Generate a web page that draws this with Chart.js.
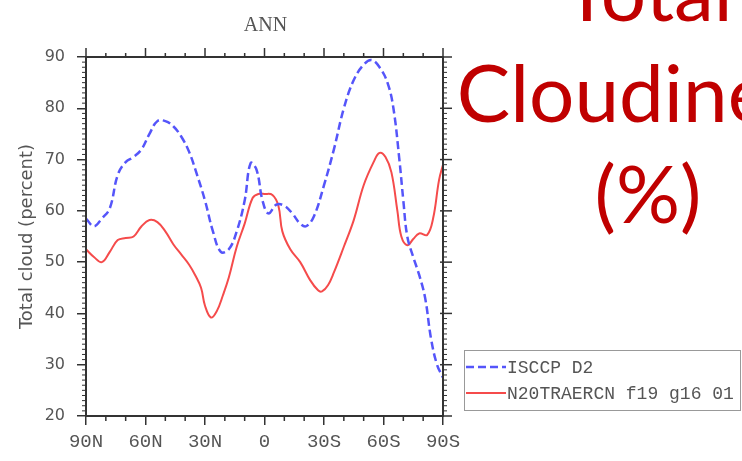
<!DOCTYPE html>
<html>
<head>
<meta charset="utf-8">
<script src="https://cdn.jsdelivr.net/npm/chart.js@4/dist/chart.umd.min.js"></script>
<style>
  html, body { margin: 0; padding: 0; background: #fff; overflow: hidden; }
  #wrap { position: relative; width: 742px; height: 461px; overflow: hidden; }
  #chart { position: absolute; left: 0; top: 0; }
  #bigTitle {
    position: absolute; left: 448px; top: -60px; width: 400px;
    text-align: center; color: #c00000;
    font-family: Lato, "Open Sans", sans-serif; font-size: 80px; line-height: 101px;
    white-space: nowrap;
  }
</style>
</head>
<body>
<div id="wrap">
  <canvas id="chart" width="742" height="461"></canvas>
  <div id="bigTitle">Total<br>Cloudiness<br>(%)</div>
</div>
<script>
// latitudes (90N -> 90S)
const latIsccp = [90, 86, 82, 78, 74, 70, 66, 62, 58, 54, 50, 46, 42, 38, 34, 30, 26, 22, 18, 14, 10, 7, 4, 1,
  -2, -6, -10, -14, -18, -21, -25, -30, -35, -40, -45, -50, -54, -58, -62, -65, -68, -70, -72, -75, -78, -81, -84, -87, -90];
const isccpD2 = [58.5, 57, 58.5, 60.5, 67, 69.5, 70.5, 72, 75, 77.5, 77.5, 76.5, 74.5, 71.5, 67, 62, 56, 52, 52.5, 56, 62, 69.3, 68, 62,
  59.5, 61.2, 61, 59.5, 57.5, 57, 59, 65, 72, 80, 85.5, 88.5, 89.4, 88, 85, 80, 70, 62, 55, 51, 47.5, 43, 35, 30, 27.5];

const latModel = [90, 86, 82, 78, 74, 70, 66, 62, 58, 54, 50, 46, 42, 38, 35, 32, 30, 27, 24, 21, 18, 14, 10, 6, 3, 0,
  -4, -7, -9, -13, -18, -23, -27, -29, -32, -35, -40, -45, -50, -55, -58, -61, -64, -67, -69, -72, -75, -78, -82, -85, -88, -90];
const modelN20 = [52.5, 51, 50, 52, 54.3, 54.7, 55, 57, 58.2, 57.8, 56, 53.5, 51.5, 49.5, 47.5, 45, 41.5, 39.2, 40.5, 43.5, 47, 53, 57.5, 62.5, 63.3, 63.3,
  63.1, 61, 56, 52.5, 50, 46.5, 44.5, 44.3, 45.5, 48, 53, 58.2, 65, 69.5, 71.3, 70.5, 67.5, 60, 55, 53.3, 54.5, 55.6, 55.3, 58.5, 66, 69];

const seriesNames = ["ISCCP D2", "N20TRAERCN f19 g16 01"];
const plotTitle = "ANN";
const yTitle = "Total cloud (percent)";

const axisColor = "#333";
const labelColor = "#555";

// ticks menores, ticks en lados superior/derecho, marco, titulo y leyenda
const extrasPlugin = {
  id: "extras",
  afterDraw(chart) {
    const ctx = chart.ctx;
    const a = chart.chartArea;
    const sx = chart.scales.x, sy = chart.scales.y;
    ctx.save();
    ctx.strokeStyle = axisColor;

    // marco
    ctx.lineWidth = 2;
    ctx.strokeRect(a.left, a.top, a.right - a.left, a.bottom - a.top);

    // eje x: cada 10 grados
    ctx.lineWidth = 1.5;
    for (let v = sx.min; v <= sx.max; v += 10) {
      const px = sx.getPixelForValue(v);
      const major = v % 30 === 0;
      ctx.beginPath();
      if (major) {
        ctx.moveTo(px, a.top); ctx.lineTo(px, a.top - 9);
      } else {
        ctx.moveTo(px, a.top); ctx.lineTo(px, a.top - 4);
        ctx.moveTo(px, a.bottom); ctx.lineTo(px, a.bottom + 5);
      }
      ctx.stroke();
    }
    // eje y: cada 1 unidad
    for (let v = sy.min; v <= sy.max; v += 1) {
      const py = sy.getPixelForValue(v);
      const major = v % 10 === 0;
      ctx.beginPath();
      if (major) {
        ctx.lineWidth = 1.5;
        ctx.moveTo(a.right - 3, py); ctx.lineTo(a.right + 9, py);
      } else {
        ctx.lineWidth = 1;
        ctx.moveTo(a.left, py); ctx.lineTo(a.left - 4, py);
        ctx.moveTo(a.right, py); ctx.lineTo(a.right + 4, py);
      }
      ctx.stroke();
    }

    // titulo
    ctx.fillStyle = labelColor;
    ctx.font = "20px 'Liberation Serif'";
    ctx.textAlign = "center";
    ctx.textBaseline = "middle";
    ctx.fillText(plotTitle, (a.left + a.right) / 2 + 1, 26);

    // leyenda
    const lx = 464, ly = 350, lw = 276, lh = 60;
    ctx.lineWidth = 1;
    ctx.strokeStyle = "#999";
    ctx.strokeRect(lx + 0.5, ly + 0.5, lw, lh);
    ctx.font = "18px 'Liberation Mono'";
    ctx.textAlign = "left";
    chart.data.datasets.forEach((ds, i) => {
      const y = ly + 17 + i * 26;
      ctx.strokeStyle = ds.borderColor;
      ctx.lineWidth = ds.borderWidth;
      ctx.setLineDash(ds.borderDash || []);
      ctx.beginPath();
      ctx.moveTo(lx + 2, y); ctx.lineTo(lx + 42, y);
      ctx.stroke();
      ctx.setLineDash([]);
      ctx.fillStyle = labelColor;
      ctx.fillText(ds.label, lx + 43, y + 1);
    });
    ctx.restore();
  }
};

const toPoints = (lats, vals) => lats.map((lat, i) => ({ x: lat, y: vals[i] }));

new Chart(document.getElementById("chart"), {
  type: "line",
  data: {
    datasets: [
      {
        label: seriesNames[0],
        data: toPoints(latIsccp, isccpD2),
        borderColor: "rgb(85, 85, 250)",
        borderWidth: 2.5,
        borderDash: [8, 4],
        pointRadius: 0,
        tension: 0.4,
        fill: false
      },
      {
        label: seriesNames[1],
        data: toPoints(latModel, modelN20),
        borderColor: "rgb(245, 75, 75)",
        borderWidth: 2,
        pointRadius: 0,
        tension: 0.4,
        fill: false
      }
    ]
  },
  options: {
    responsive: false,
    animation: false,
    devicePixelRatio: 1,
    layout: { padding: { left: 0, right: 299, top: 57, bottom: 0 } },
    plugins: {
      legend: { display: false },
      tooltip: { enabled: false }
    },
    scales: {
      x: {
        type: "linear",
        min: -90, max: 90, reverse: true,
        afterFit: (s) => { s.height = 45; },
        ticks: {
          stepSize: 30,
          color: labelColor,
          font: { family: "Liberation Mono", size: 19 },
          padding: 6,
          maxRotation: 0,
          callback: (v) => v > 0 ? v + "N" : (v < 0 ? (-v) + "S" : "0")
        },
        grid: { display: true, drawOnChartArea: false, drawTicks: true, tickLength: 9, color: axisColor, lineWidth: 1.5 },
        border: { display: true, color: axisColor, width: 2 }
      },
      y: {
        min: 20, max: 90,
        afterFit: (s) => { s.width = 86; },
        ticks: {
          stepSize: 10,
          color: labelColor,
          font: { family: "DejaVu Sans", size: 16 },
          padding: 12
        },
        title: {
          display: true,
          text: yTitle,
          color: labelColor,
          font: { family: "DejaVu Sans", size: 18 },
          padding: { top: 17, bottom: 0 }
        },
        grid: { display: true, drawOnChartArea: false, drawTicks: true, tickLength: 9, color: axisColor, lineWidth: 1.5 },
        border: { display: true, color: axisColor, width: 2 }
      }
    }
  },
  plugins: [extrasPlugin]
});
</script>
</body>
</html>
